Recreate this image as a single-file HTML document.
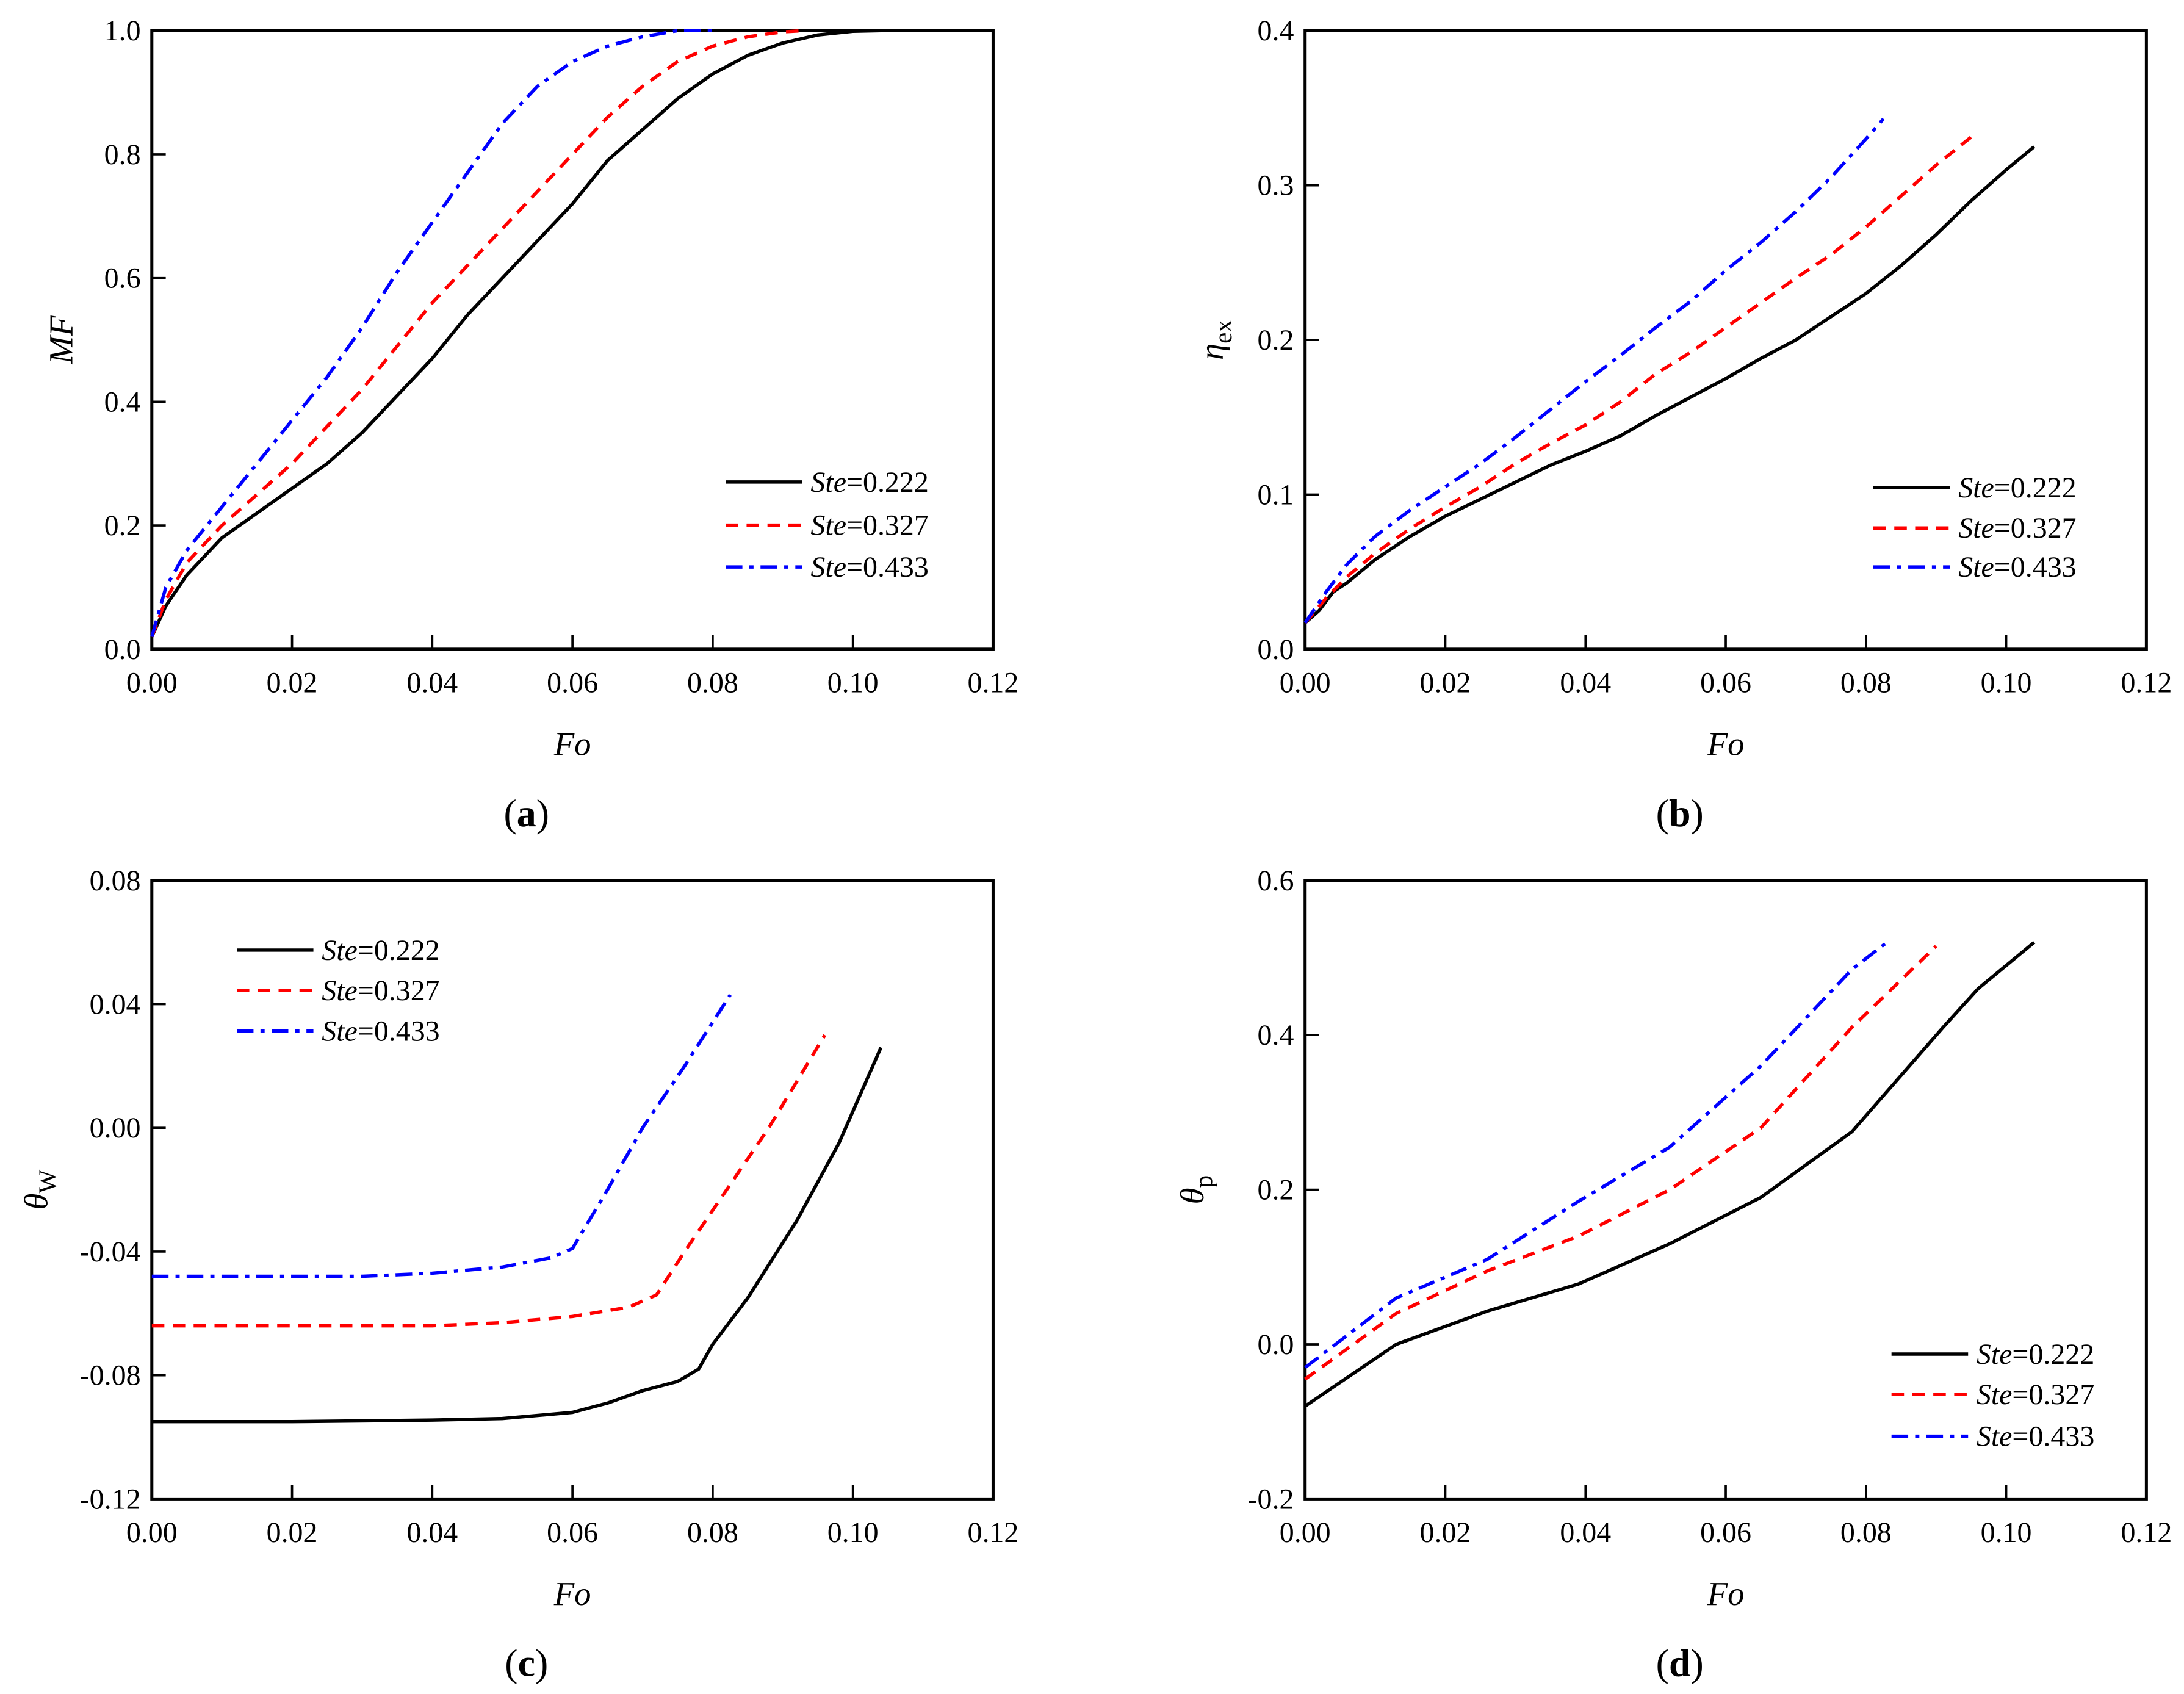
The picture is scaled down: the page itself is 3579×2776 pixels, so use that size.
<!DOCTYPE html>
<html><head><meta charset="utf-8"><style>html,body{margin:0;padding:0;background:#fff}svg{display:block}</style></head>
<body>
<svg id="fig" xmlns="http://www.w3.org/2000/svg" width="3579" height="2776" viewBox="0 0 1568 1216" preserveAspectRatio="none" font-family="'Liberation Serif', serif"></svg>
<script>
// ---- Data ----
const xTicks = [0, 0.02, 0.04, 0.06, 0.08, 0.10, 0.12];
const xTickLabels = ["0.00","0.02","0.04","0.06","0.08","0.10","0.12"];
const legendLabels = ["0.222","0.327","0.433"];

const aYTicks = [0,0.2,0.4,0.6,0.8,1.0];
const aYTickLabels = ["0.0","0.2","0.4","0.6","0.8","1.0"];
const aBlackX = [0,0.002,0.005,0.01,0.015,0.02,0.025,0.03,0.035,0.04,0.045,0.05,0.055,0.06,0.065,0.07,0.075,0.08,0.085,0.09,0.095,0.1,0.104];
const aBlackY = [0.02,0.07,0.12,0.18,0.22,0.26,0.30,0.35,0.41,0.47,0.54,0.60,0.66,0.72,0.79,0.84,0.89,0.93,0.96,0.98,0.993,0.999,1.0];
const aRedX = [0,0.002,0.005,0.01,0.015,0.02,0.025,0.03,0.035,0.04,0.045,0.05,0.055,0.06,0.065,0.07,0.075,0.08,0.085,0.09,0.093];
const aRedY = [0.02,0.08,0.14,0.2,0.25,0.3,0.36,0.42,0.49,0.56,0.62,0.68,0.74,0.8,0.86,0.91,0.95,0.975,0.99,0.998,1.0];
const aBlueX = [0,0.002,0.005,0.01,0.015,0.02,0.025,0.03,0.035,0.04,0.045,0.05,0.055,0.06,0.065,0.07,0.075,0.08];
const aBlueY = [0.02,0.1,0.16,0.23,0.3,0.37,0.44,0.52,0.61,0.69,0.77,0.85,0.91,0.95,0.975,0.99,1.0,1.0];

const bYTicks = [0,0.1,0.2,0.3,0.4];
const bYTickLabels = ["0.0","0.1","0.2","0.3","0.4"];
const bBlackX = [0,0.002,0.004,0.006,0.01,0.015,0.02,0.025,0.03,0.035,0.04,0.045,0.05,0.055,0.06,0.065,0.07,0.075,0.08,0.085,0.09,0.095,0.1,0.104];
const bBlackY = [0.017,0.025,0.037,0.043,0.058,0.073,0.086,0.097,0.108,0.119,0.128,0.138,0.151,0.163,0.175,0.188,0.2,0.215,0.23,0.248,0.268,0.29,0.31,0.325];
const bRedX = [0,0.003,0.006,0.01,0.015,0.02,0.025,0.03,0.035,0.04,0.045,0.05,0.055,0.06,0.065,0.07,0.075,0.08,0.085,0.09,0.0955];
const bRedY = [0.017,0.033,0.047,0.062,0.078,0.092,0.105,0.12,0.133,0.145,0.16,0.178,0.192,0.208,0.224,0.24,0.255,0.273,0.293,0.313,0.333];
const bBlueX = [0,0.003,0.006,0.01,0.015,0.02,0.025,0.03,0.035,0.04,0.045,0.05,0.055,0.06,0.065,0.07,0.075,0.08,0.0825];
const bBlueY = [0.017,0.037,0.055,0.073,0.09,0.105,0.12,0.137,0.155,0.173,0.19,0.208,0.225,0.245,0.263,0.283,0.305,0.33,0.343];

const cYTicks = [-0.12,-0.08,-0.04,0,0.04,0.08];
const cYTickLabels = ["-0.12","-0.08","-0.04","0.00","0.04","0.08"];
const cBlackX = [0,0.02,0.04,0.05,0.06,0.065,0.07,0.075,0.078,0.08,0.085,0.092,0.098,0.104];
const cBlackY = [-0.095,-0.095,-0.0945,-0.094,-0.092,-0.089,-0.085,-0.082,-0.078,-0.07,-0.055,-0.03,-0.005,0.026];
const cRedX = [0,0.02,0.04,0.05,0.06,0.068,0.072,0.076,0.082,0.088,0.096];
const cRedY = [-0.064,-0.064,-0.064,-0.063,-0.061,-0.058,-0.054,-0.04,-0.02,0.0,0.03];
const cBlueX = [0,0.02,0.03,0.04,0.05,0.057,0.06,0.065,0.07,0.076,0.0825];
const cBlueY = [-0.048,-0.048,-0.048,-0.047,-0.045,-0.042,-0.039,-0.02,0.0,0.02,0.043];

const dYTicks = [-0.2,0,0.2,0.4,0.6];
const dYTickLabels = ["-0.2","0.0","0.2","0.4","0.6"];
const dBlackX = [0,0.013,0.026,0.039,0.052,0.065,0.078,0.091,0.096,0.104];
const dBlackY = [-0.08,0.0,0.043,0.078,0.13,0.19,0.275,0.41,0.46,0.52];
const dRedX = [0,0.013,0.026,0.039,0.052,0.065,0.078,0.09];
const dRedY = [-0.045,0.04,0.095,0.14,0.2,0.28,0.41,0.515];
const dBlueX = [0,0.013,0.026,0.039,0.052,0.065,0.078,0.083];
const dBlueY = [-0.03,0.06,0.11,0.185,0.255,0.36,0.485,0.52];

// ---- Drawing ----
const NS = "http://www.w3.org/2000/svg";
const svg = document.getElementById('fig');
function mk(tag, attrs, parent){ const e=document.createElementNS(NS,tag); for(const k in attrs) e.setAttribute(k,attrs[k]); (parent||svg).appendChild(e); return e; }
const styles = [
  {stroke:"#000", dash:""},
  {stroke:"#ff0000", dash:"9,6"},
  {stroke:"#0000ff", dash:"12,5,3,5"}
];

function panel(cfg){
  const g = mk('g',{});
  
  
  const L=cfg.L,R=cfg.L+604,T=cfg.T,B=cfg.T+444;
  const sx = v => L + (v-0)/(0.12)*(R-L);
  const sy = v => B - (v-cfg.ymin)/(cfg.ymax-cfg.ymin)*(B-T);
  const box = mk('rect',{x:L,y:T,width:R-L,height:B-T,fill:"none",stroke:"#000","stroke-width":2.2},g);
  
  
  xTicks.forEach((t,i)=>{
    const x=sx(t);
    if(i>0 && i<xTicks.length-1) mk('line',{x1:x,y1:B,x2:x,y2:B-10,stroke:"#000","stroke-width":1.6},g);
    const tx = mk('text',{x:x,y:B+31,"text-anchor":"middle","font-size":21},g);
    tx.textContent = xTickLabels[i];
    
    
  });
  cfg.yt.forEach((t,i)=>{
    const y=sy(t);
    if(i>0 && i<cfg.yt.length-1) mk('line',{x1:L,y1:y,x2:L+10,y2:y,stroke:"#000","stroke-width":1.6},g);
    const tx = mk('text',{x:L-8,y:y+7,"text-anchor":"end","font-size":21},g);
    tx.textContent = cfg.ytl[i];
    
    
  });
  cfg.series.forEach((s,k)=>{
    const d = s[0].map((x,i)=>(i?'L':'M')+sx(x).toFixed(2)+','+sy(s[1][i]).toFixed(2)).join(' ');
    const p = mk('path',{d:d,fill:"none",stroke:styles[k].stroke,"stroke-width":2.4,"stroke-dasharray":styles[k].dash,"stroke-linejoin":"round"},g);
    
    
  });
  // legend
  const lg = mk('g',{},g);
  
  
  cfg.leg.ys.forEach((y,k)=>{
    mk('line',{x1:cfg.leg.x,y1:y,x2:cfg.leg.x+55,y2:y,stroke:styles[k].stroke,"stroke-width":2.4,"stroke-dasharray":styles[k].dash},lg);
    const tx = mk('text',{x:cfg.leg.x+61,y:y+7,"font-size":21},lg);
    tx.innerHTML = '<tspan font-style="italic">Ste</tspan>='+legendLabels[k];
    
    
  });
  // axis titles
  const xt = mk('text',{x:(L+R)/2,y:B+76,"text-anchor":"middle","font-size":24,"font-style":"italic"},g);
  xt.textContent='Fo';
  
  
  const yt = mk('text',{transform:`translate(${cfg.ylx},${(T+B)/2}) rotate(-90)`,"text-anchor":"middle","font-size":24},g);
  yt.innerHTML = cfg.ylab;
  
  
  const cap = mk('text',{x:(L+R)/2-33,y:B+127,"text-anchor":"middle","font-size":28},g);
  cap.innerHTML = '(<tspan font-weight="bold">'+cfg.id+'</tspan>)';
  
  
}

panel({id:'a',L:109,T:22,ymin:0,ymax:1,yt:aYTicks,ytl:aYTickLabels,
  series:[[aBlackX,aBlackY],[aRedX,aRedY],[aBlueX,aBlueY]],
  leg:{x:521,ys:[346,377,407]},ylx:52,ylab:'<tspan font-style="italic">MF</tspan>'});
panel({id:'b',L:937,T:22,ymin:0,ymax:0.4,yt:bYTicks,ytl:bYTickLabels,
  series:[[bBlackX,bBlackY],[bRedX,bRedY],[bBlueX,bBlueY]],
  leg:{x:1345,ys:[350,379,407]},ylx:878,ylab:'<tspan font-style="italic">η</tspan><tspan font-size="18" dy="6">ex</tspan>'});
panel({id:'c',L:109,T:632,ymin:-0.12,ymax:0.08,yt:cYTicks,ytl:cYTickLabels,
  series:[[cBlackX,cBlackY],[cRedX,cRedY],[cBlueX,cBlueY]],
  leg:{x:170,ys:[682,711,740]},ylx:34,ylab:'<tspan font-style="italic">θ</tspan><tspan font-size="18" dy="6">W</tspan>'});
panel({id:'d',L:937,T:632,ymin:-0.2,ymax:0.6,yt:dYTicks,ytl:dYTickLabels,
  series:[[dBlackX,dBlackY],[dRedX,dRedY],[dBlueX,dBlueY]],
  leg:{x:1358,ys:[972,1001,1031]},ylx:864,ylab:'<tspan font-style="italic">θ</tspan><tspan font-size="18" dy="6">p</tspan>'});
</script>
</body></html>
